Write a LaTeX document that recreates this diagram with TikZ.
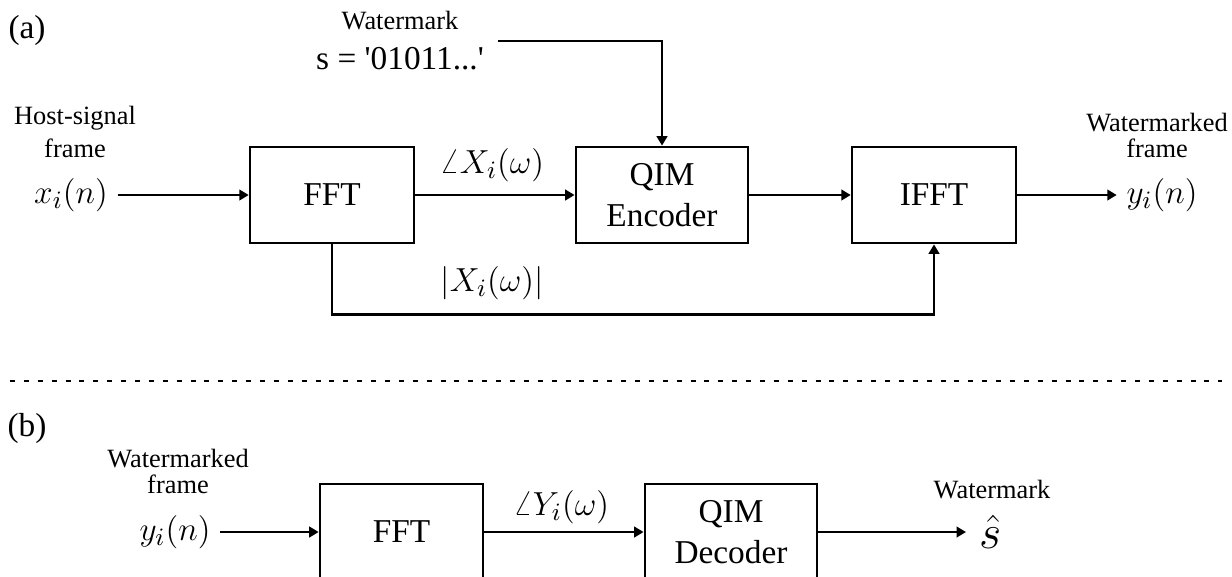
\documentclass[tikz,border=0pt]{standalone}
\usepackage{amsmath}
\usepackage[no-math]{fontspec}
\setmainfont{Liberation Serif}
\usepackage{tikz}
\usetikzlibrary{positioning,arrows.meta}

\begin{document}
\begin{tikzpicture}[x=0.36pt,y=-0.36pt,
  blk/.style={draw,line width=0.95pt,minimum height=34.6pt,inner sep=0pt,align=center,font=\fontsize{12}{15}\selectfont},
  sig/.style={line width=0.9pt,-{Triangle[length=3.4pt,width=3.8pt]}},
  lbl/.style={inner sep=0pt,align=center,font=\fontsize{9.5}{11.9}\selectfont},
  big/.style={font=\fontsize{12}{14.4}\selectfont},
  sym/.style={font=\fontsize{13.2}{16}\selectfont}]
\useasboundingbox (0,0) rectangle (1232,576);

% (a) embedding
\node[big] (tagA) at (27,30) {(a)};
\node[big,align=center,inner sep=5pt] (wm) at (400,41) {{\fontsize{9.5}{11}\selectfont Watermark}\\s = \textquotesingle 01011...\textquotesingle};
\node[lbl,anchor=south] (hostlbl) at (75,158) {Host-signal\\frame};
\node[sym] (xin) at (71,195) {$x_i(n)$};
\node[blk,minimum width=59pt] (fft) at (332,195) {FFT};
\node[blk,minimum width=62pt] (enc) at (662,195) {QIM\\Encoder};
\node[blk,minimum width=59pt] (ifft) at (934,195) {IFFT};
\node[sym] (yout) at (1162,195) {$y_i(n)$};
\node[lbl,anchor=south,font=\fontsize{9.5}{9.2}\selectfont] (outlbl) at (1157,158) {Watermarked\\frame};
\node[sym] (phX) at (492,165) {$\angle X_i(\omega)$};
\node[sym] (magX) at (492,283) {$|X_i(\omega)|$};

\draw[sig] (wm.east) -| (enc.north);
\draw[sig] (xin.east) -- (fft.west);
\draw[sig] (fft.east) -- (enc.west);
\draw[sig] (enc.east) -- (ifft.west);
\draw[sig] (ifft.east) -- (yout.west);
\draw[sig] (fft.south) -- ++(0,70) -| (ifft.south);

% separator
\draw[line width=0.8pt,dash pattern=on 1.8pt off 3.2pt] (10,381) -- (1222,381);

% (b) extraction
\node[big] (tagB) at (27,428) {(b)};
\node[lbl,anchor=south,font=\fontsize{9.5}{9.4}\selectfont] (inlbl) at (178,494) {Watermarked\\frame};
\node[sym] (yin) at (175,532) {$y_i(n)$};
\node[blk,minimum width=58.7pt] (fftb) at (401.5,532) {FFT};
\node[blk,minimum width=62pt] (dec) at (731,532) {QIM\\Decoder};
\node[sym] (phY) at (561,507) {$\angle Y_i(\omega)$};
\node[anchor=west,inner sep=4.6pt,font=\fontsize{16.5}{18}\selectfont] (shat) at (966,532) {$\hat{s}$};
\node[lbl,anchor=base] (outwm) at (992,498) {Watermark};

\draw[sig] (yin.east) -- (fftb.west);
\draw[sig] (fftb.east) -- (dec.west);
\draw[sig] (dec.east) -- (shat.west);
\end{tikzpicture}
\end{document}
